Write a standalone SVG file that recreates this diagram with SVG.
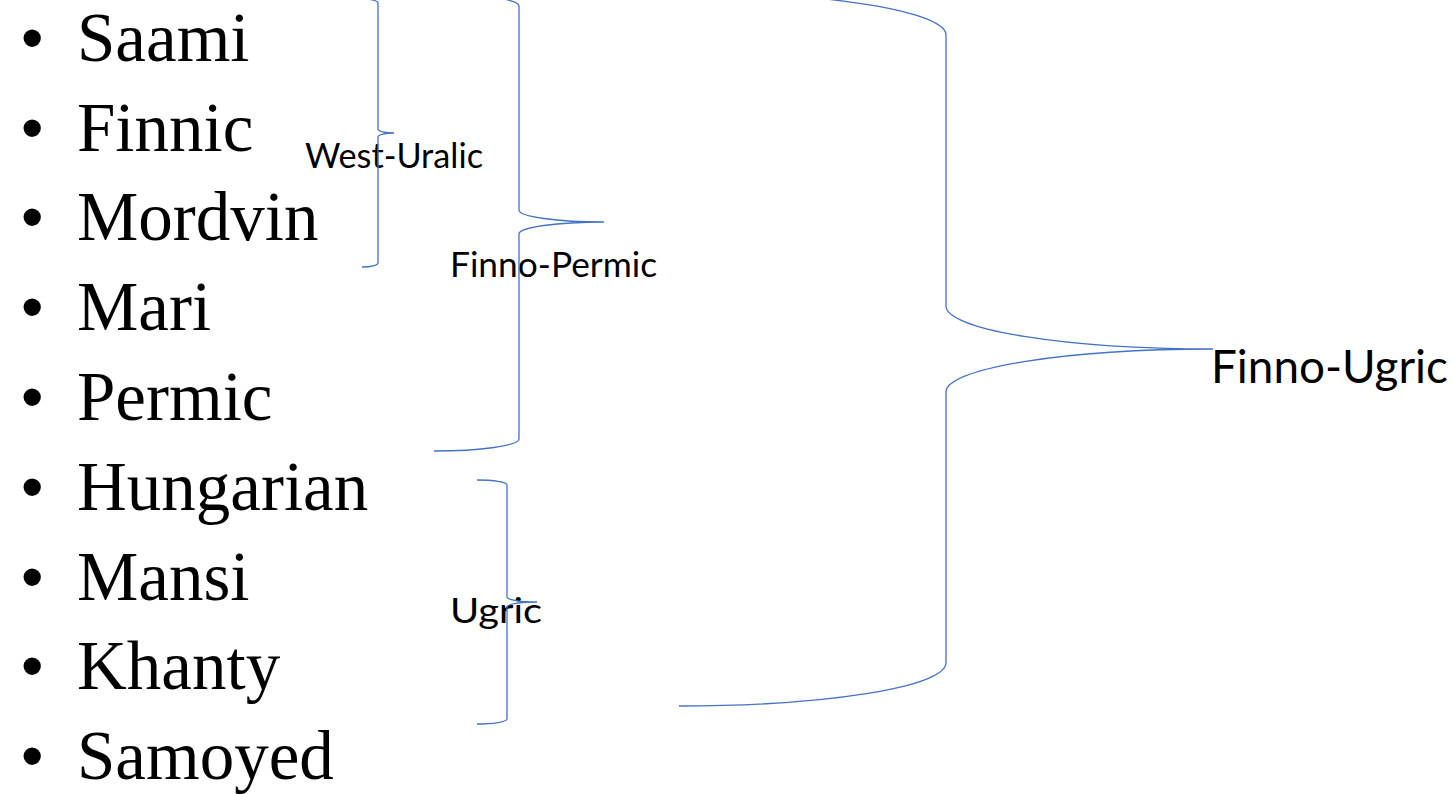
<svg xmlns="http://www.w3.org/2000/svg" width="1453" height="794" viewBox="0 0 1453 794">
  <style>
    .item { font-family: "Liberation Serif", "Times New Roman", serif; font-size: 69px; fill: #000; }
    .bullet { font-family: "Liberation Sans", Arial, sans-serif; font-size: 64px; fill: #000; }
    .label { font-family: Lato, "Open Sans", sans-serif; fill: #000; }
    .brace { fill: none; stroke: #4472C4; stroke-width: 1.3; }
  </style>
  <rect width="1453" height="794" fill="#fff"/>

  <!-- bulleted list of branches -->
  <g id="list">
    <g id="item-saami"><text class="bullet" x="21" y="60">•</text><text class="item" x="77" y="61">Saami</text></g>
    <g id="item-finnic"><text class="bullet" x="21" y="150">•</text><text class="item" x="77" y="151">Finnic</text></g>
    <g id="item-mordvin"><text class="bullet" x="21" y="239">•</text><text class="item" x="77" y="240">Mordvin</text></g>
    <g id="item-mari"><text class="bullet" x="21" y="329">•</text><text class="item" x="77" y="330">Mari</text></g>
    <g id="item-permic"><text class="bullet" x="21" y="419">•</text><text class="item" x="77" y="420">Permic</text></g>
    <g id="item-hungarian"><text class="bullet" x="21" y="509">•</text><text class="item" x="77" y="510">Hungarian</text></g>
    <g id="item-mansi"><text class="bullet" x="21" y="599">•</text><text class="item" x="77" y="600">Mansi</text></g>
    <g id="item-khanty"><text class="bullet" x="21" y="688">•</text><text class="item" x="77" y="689">Khanty</text></g>
    <g id="item-samoyed"><text class="bullet" x="21" y="778">•</text><text class="item" x="77" y="779">Samoyed</text></g>
  </g>

  <!-- group labels -->
  <g id="labels">
    <text id="west-uralic" class="label" x="305" y="168" font-size="35" textLength="178" lengthAdjust="spacingAndGlyphs">West-Uralic</text>
    <text id="finno-permic" class="label" x="450" y="277" font-size="35" textLength="207" lengthAdjust="spacingAndGlyphs">Finno-Permic</text>
    <text id="ugric" class="label" x="450" y="623" font-size="35" textLength="92" lengthAdjust="spacingAndGlyphs">Ugric</text>
    <text id="finno-ugric" class="label" x="1211" y="383" font-size="46" textLength="237" lengthAdjust="spacingAndGlyphs">Finno-Ugric</text>
  </g>

  <!-- right braces grouping the list -->
  <g id="connectors">
    <path id="brace-west-uralic" class="brace" d="M362,-1 A16,4 0 0 1 378,3 L378,129 A16,4 0 0 0 394,133 A16,4 0 0 0 378,137 L378,263 A16,4 0 0 1 362,267"/>
    <path id="brace-finno-permic" class="brace" d="M434,-6 A85,12 0 0 1 519,6 L519,210 A85,12 0 0 0 604,222 A85,12 0 0 0 519,234 L519,439 A85,12 0 0 1 434,451"/>
    <path id="brace-ugric" class="brace" d="M477,480 A30,5 0 0 1 507,485 L507,597 A30,5 0 0 0 537,602 A30,5 0 0 0 507,607 L507,719 A30,5 0 0 1 477,724"/>
    <path id="brace-finno-ugric" class="brace" d="M679,-8 A267,43 0 0 1 946,35 L946,306 A267,43 0 0 0 1213,349 A267,43 0 0 0 946,392 L946,663 A267,43 0 0 1 679,706"/>
  </g>
</svg>
